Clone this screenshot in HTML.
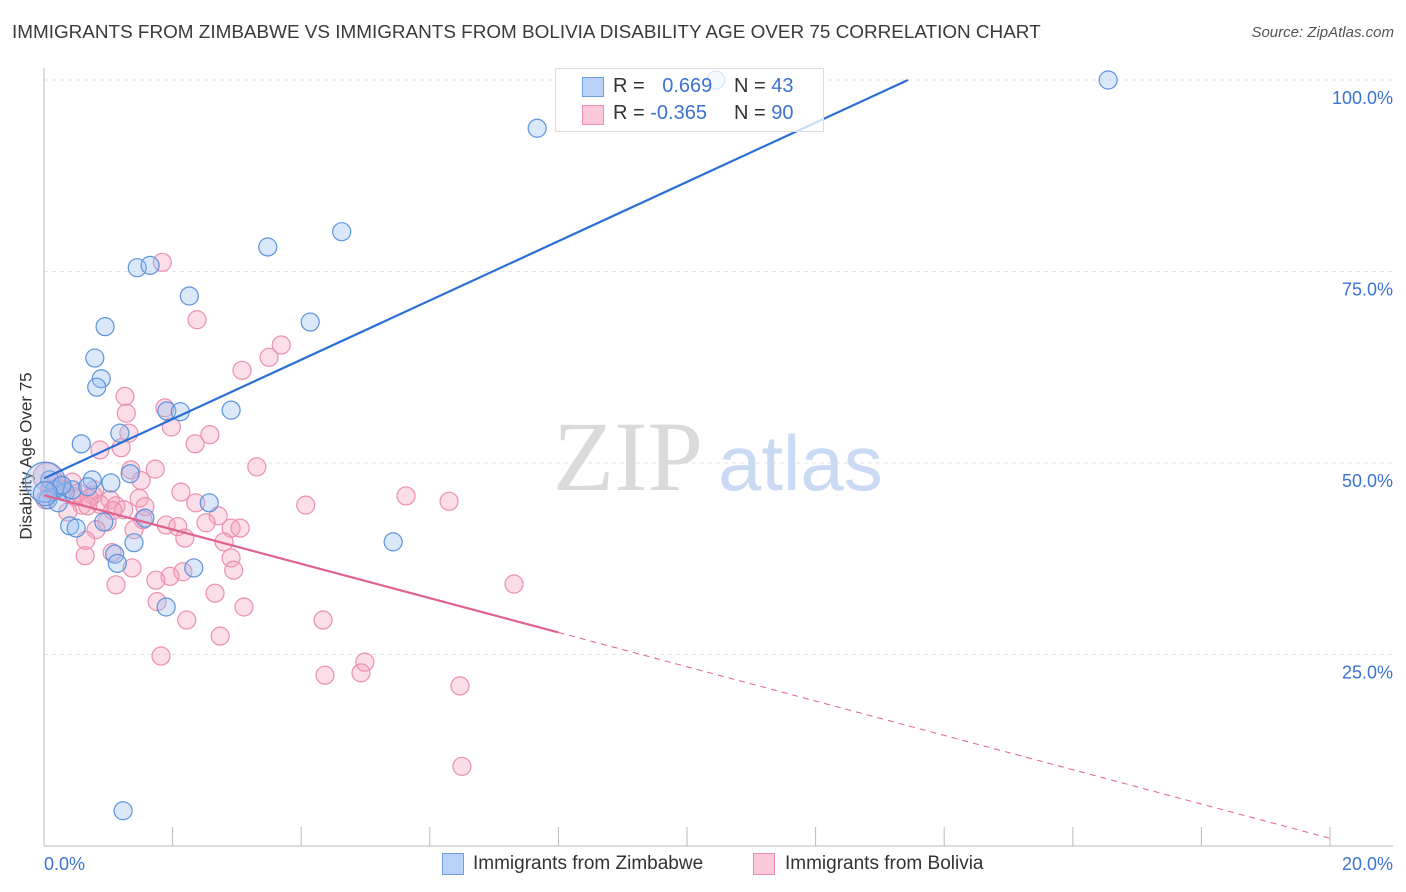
<!DOCTYPE html>
<html><head><meta charset="utf-8"><style>
body{margin:0;background:#fff;font-family:"Liberation Sans",sans-serif;}
#wrap{position:relative;width:1406px;height:892px;}
.t{position:absolute;white-space:nowrap;}
</style></head><body>
<div id="wrap">
<div class="t" style="left:12px;top:22px;font-size:18.9px;color:#3a3a3a">IMMIGRANTS FROM ZIMBABWE VS IMMIGRANTS FROM BOLIVIA DISABILITY AGE OVER 75 CORRELATION CHART</div>
<div class="t" style="right:12px;top:24px;font-size:15px;color:#555;font-style:italic">Source: ZipAtlas.com</div>
<svg id="svg" width="1406" height="892" style="position:absolute;left:0;top:0"></svg>
</div>
<script>
const ytickVals=[25,50,75,100];
const ytickLabels=["25.0%","50.0%","75.0%","100.0%"];
const xLabels=["0.0%","20.0%"];
const blueX=[10.45,16.55,7.67,4.63,3.48,1.45,1.65,2.26,4.14,0.95,0.79,0.89,0.82,1.91,2.12,2.91,1.18,0.58,1.04,0.75,1.34,0.09,0.17,0.33,0.44,0.06,0.22,2.57,1.57,0.93,0.40,0.50,1.10,1.14,1.40,2.33,1.90,5.43,1.23,0.02,0.28,0.68,0.02];
const blueY=[100,100,93.7,80.2,78.2,75.5,75.8,71.8,68.4,67.8,63.7,61,59.9,56.8,56.7,56.9,53.9,52.5,47.4,47.8,48.6,47.8,46.5,46.2,46.5,45.2,44.8,44.8,42.8,42.3,41.8,41.5,38.1,36.9,39.6,36.3,31.2,39.7,4.6,47.5,47.1,46.9,46];
const blueR=[9,9,9,9,9,9,9,9,9,9,9,9,9,9,9,9,9,9,9,9,9,9,9,9,9,9,9,9,9,9,9,9,9,9,9,9,9,9,9,20,9,9,12];
const pinkX=[1.84,2.38,3.69,3.50,3.08,1.26,1.28,1.88,1.98,1.32,2.58,2.35,0.87,1.20,3.31,1.73,1.35,1.51,2.13,5.63,6.30,4.07,1.48,2.36,0.76,1.03,0.59,0.48,0.31,0.19,0.44,0.68,0.87,1.12,1.24,1.57,1.07,0.37,2.71,0.98,1.54,1.90,2.08,2.52,2.91,3.05,0.81,1.40,2.19,2.80,0.65,0.64,1.06,2.91,2.95,1.37,2.16,1.96,1.74,1.12,7.31,2.66,1.76,3.11,2.22,4.34,2.74,1.82,4.99,4.93,4.37,6.47,6.50,0.05,0.09,0.25,0.02,0.53,0.79,0.70];
const pinkY=[76.2,68.7,65.4,63.8,62.1,58.7,56.5,57.2,54.7,53.9,53.7,52.5,51.7,52.0,49.5,49.2,49.1,47.7,46.2,45.7,45,44.5,45.4,44.8,45.8,45.2,44.5,45.6,46.5,47.5,47.5,44.4,44.6,44.4,43.9,44.3,43.8,43.6,43.1,42.3,42.6,41.9,41.7,42.2,41.5,41.5,41.3,41.3,40.2,39.7,39.9,37.9,38.3,37.6,36.0,36.3,35.8,35.2,34.7,34.1,34.2,33.0,31.9,31.2,29.5,29.5,27.4,24.8,24,22.6,22.3,20.9,10.4,48.2,46.5,47,45.2,46.1,46.5,45.4];
const blueLine=[48.0,3.87];
const pinkLine=[45.8,-2.24];
const pinkSolidEnd=8;

const svg=document.getElementById('svg');
const NS='http://www.w3.org/2000/svg';
const X=v=>44+v*64.3, Y=v=>846-v*7.66;
function mk(tag,attrs,parent){const e=document.createElementNS(NS,tag);for(const k in attrs)e.setAttribute(k,attrs[k]);(parent||svg).appendChild(e);return e;}
ytickVals.forEach((v,i)=>{
 const g=mk('line',{x1:44,x2:1393,y1:Y(v),y2:Y(v),stroke:'#e3e3e3','stroke-dasharray':'4,4'});
 
 
 const t=mk('text',{x:1393,y:Y(v)+24,'text-anchor':'end','font-size':18,fill:'#3b73d0','font-family':'Liberation Sans, sans-serif'});
 t.textContent=ytickLabels[i];
 
 
});
const ax=mk('line',{x1:44,x2:44,y1:68,y2:846,stroke:'#bbb'});


const bx=mk('line',{x1:44,x2:1393,y1:846,y2:846,stroke:'#bbb'});


for(let i=0;i<=10;i++){const tk=mk('line',{x1:X(i*2),x2:X(i*2),y1:827,y2:846,stroke:'#bbb'});
 
 }
[[0,44,'start'],[20,1393,'end']].forEach((a,i)=>{const t=mk('text',{x:a[1],y:870,'text-anchor':a[2],'font-size':18,fill:'#3b73d0','font-family':'Liberation Sans, sans-serif'});t.textContent=xLabels[i];
 
 });
const yt=mk('text',{x:27,y:456,transform:'rotate(-90 27 456)','text-anchor':'middle','font-size':17,fill:'#333','font-family':'Liberation Sans, sans-serif','dominant-baseline':'middle'});
yt.textContent='Disability Age Over 75';


const wm=mk('text',{x:553,y:490,'font-size':100,fill:'#dadada','font-family':'Liberation Serif, serif'});
wm.textContent='ZIP';


const wm2=mk('text',{x:718,y:490,'font-size':78,fill:'#c9daf2','font-family':'Liberation Sans, sans-serif'});
wm2.textContent='atlas';


pinkX.forEach((x,i)=>{const c=mk('circle',{cx:X(x),cy:Y(pinkY[i]),r:i==73?14:9,fill:'rgba(244,160,190,0.35)',stroke:'#ec8fae','stroke-width':1.2});
 
 });
blueX.forEach((x,i)=>{const c=mk('circle',{cx:X(x),cy:Y(blueY[i]),r:blueR[i],fill:'rgba(150,190,240,0.35)',stroke:'#5b93dc','stroke-width':1.2});
 
 });
const xEndB=(100-blueLine[0])/blueLine[1];
const bl=mk('line',{x1:X(0),y1:Y(blueLine[0]),x2:X(xEndB),y2:Y(100),stroke:'#2a6fd6','stroke-width':2.2});


const pl=mk('line',{x1:X(0),y1:Y(pinkLine[0]),x2:X(pinkSolidEnd),y2:Y(pinkLine[0]+pinkLine[1]*pinkSolidEnd),stroke:'#e0628e','stroke-width':2.2});


const pd=mk('line',{x1:X(pinkSolidEnd),y1:Y(pinkLine[0]+pinkLine[1]*pinkSolidEnd),x2:X(20),y2:Y(pinkLine[0]+pinkLine[1]*20),stroke:'#e0628e','stroke-width':1,'stroke-dasharray':'6,5'});


</script>
<div style="position:absolute;left:555px;top:68px;width:267px;height:62px;border:1px solid #ddd;background:rgba(255,255,255,0.75);font-size:20px;color:#333">
 <div style="position:absolute;left:26px;top:8px;width:20px;height:18px;background:#b8d2f5;border:1px solid #6d9fe0"></div>
 <div class="t" style="left:57px;top:6px">R = <span style="color:#3b73d0;margin-left:12px">0.669</span></div>
 <div class="t" style="left:178px;top:6px">N = <span style="color:#3b73d0">43</span></div>
 <div style="position:absolute;left:26px;top:36px;width:20px;height:18px;background:#fbc8d8;border:1px solid #ec8fae"></div>
 <div class="t" style="left:57px;top:33px">R = <span style="color:#3b73d0">-0.365</span></div>
 <div class="t" style="left:178px;top:33px">N = <span style="color:#3b73d0">90</span></div>
</div>
<div style="position:absolute;left:442px;top:853px;width:20px;height:20px;background:#b8d2f5;border:1px solid #6d9fe0"></div>
<div class="t" style="left:473px;top:853px;font-size:19px;color:#333">Immigrants from Zimbabwe</div>
<div style="position:absolute;left:753px;top:853px;width:20px;height:20px;background:#fbc8d8;border:1px solid #ec8fae"></div>
<div class="t" style="left:785px;top:853px;font-size:19px;color:#333">Immigrants from Bolivia</div>
</body></html>
